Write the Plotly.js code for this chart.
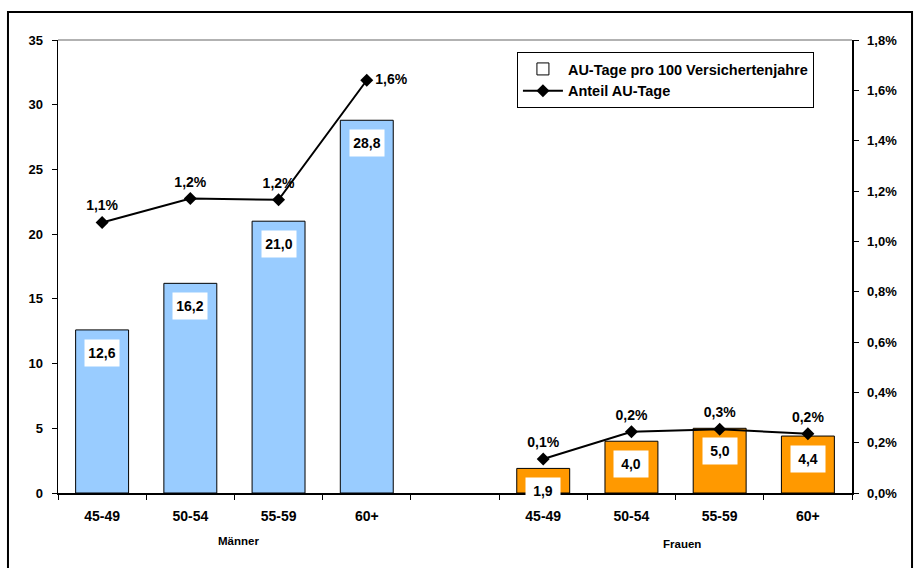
<!DOCTYPE html>
<html>
<head>
<meta charset="utf-8">
<script src="https://cdn.plot.ly/plotly-3.0.1.min.js"></script>
<style>
html,body{margin:0;padding:0;background:#fff;}
#chart{width:915px;height:568px;}
</style>
</head>
<body>
<div id="chart"></div>
<script>
// ---- data ----
const ageGroups = ['45-49', '50-54', '55-59', '60+'];
const groupNames = ['Männer', 'Frauen'];
const auTageMaenner = [12.6, 16.2, 21.0, 28.8];
const auTageFrauen = [1.9, 4.0, 5.0, 4.4];
const anteilMaenner = [0.01075, 0.0117, 0.01165, 0.0164];
const anteilFrauen = [0.00135, 0.00243, 0.00253, 0.00235];
const legendBars = 'AU-Tage pro 100 Versichertenjahre';
const legendLine = 'Anteil AU-Tage';

// positions: Männer slots 0..3, gap slot 4, Frauen slots 5..8
const xM = ageGroups.map((_, i) => i);
const xF = ageGroups.map((_, i) => i + ageGroups.length + 1);

const FONT = 'Liberation Sans, Arial, sans-serif';
const bold = (s) => '<b>' + s + '</b>';
const fmt1 = (v) => v.toFixed(1).replace('.', ',');

const traces = [
  { type: 'bar', x: xM, y: auTageMaenner, width: 0.6, showlegend: false,
    marker: { color: '#99CCFF', line: { color: '#000', width: 1 } }, hoverinfo: 'skip' },
  { type: 'bar', x: xF, y: auTageFrauen, width: 0.6, showlegend: false,
    marker: { color: '#FF9900', line: { color: '#000', width: 1 } }, hoverinfo: 'skip' },
  // legend-only bar sample (white box)
  { type: 'bar', x: [null], y: [null], name: bold(legendBars), showlegend: true,
    marker: { color: '#FFFFFF', line: { color: '#000', width: 1 } } },
  { type: 'scatter', mode: 'lines+markers', x: xM, y: anteilMaenner, yaxis: 'y2',
    name: bold(legendLine), showlegend: true,
    line: { color: '#000', width: 2 }, marker: { symbol: 'diamond', size: 10, color: '#000' } },
  { type: 'scatter', mode: 'lines+markers', x: xF, y: anteilFrauen, yaxis: 'y2',
    showlegend: false,
    line: { color: '#000', width: 2 }, marker: { symbol: 'diamond', size: 10, color: '#000' } },
  { type: 'scatter', mode: 'markers+text', x: xM.concat(xF), y: anteilMaenner.concat(anteilFrauen), yaxis: 'y2',
    showlegend: false, texttemplate: '<b>%{y:.1%}</b>',
    marker: { size: 12, opacity: 0 },
    textposition: ['top center', 'top center', 'top center', 'middle right',
                   'top center', 'top center', 'top center', 'top center'],
    textfont: { family: FONT, size: 14, color: '#000' } }
];

const annotations = [];
xM.concat(xF).forEach((x, i) => {
  const v = auTageMaenner.concat(auTageFrauen)[i];
  annotations.push({
    x: x, y: v, xref: 'x', yref: 'y', yanchor: 'top', yshift: -9,
    text: bold(fmt1(v)), showarrow: false, bgcolor: '#FFFFFF',
    width: 34, height: 26, borderpad: 0,
    font: { family: FONT, size: 14, color: '#000' }
  });
});
annotations.push({ x: 1.55, y: -0.106, xref: 'x', yref: 'paper', yanchor: 'middle', text: bold(groupNames[0]),
  showarrow: false, font: { family: FONT, size: 11.5, color: '#000' } });
annotations.push({ x: 6.57, y: -0.113, xref: 'x', yref: 'paper', yanchor: 'middle', text: bold(groupNames[1]),
  showarrow: false, font: { family: FONT, size: 11.5, color: '#000' } });

const yTickFont = { family: FONT, size: 13, color: '#000' };
const xTickFont = { family: FONT, size: 14, color: '#000' };

const layout = {
  width: 915, height: 568,
  margin: { l: 58, r: 63, t: 40, b: 75 },
  paper_bgcolor: '#fff', plot_bgcolor: '#fff',
  separators: ',.',
  barmode: 'overlay',
  font: { family: FONT, size: 13, color: '#000' },
  xaxis: {
    range: [-0.5, 8.5], tickmode: 'array', tickvals: xM.concat(xF),
    ticktext: ageGroups.concat(ageGroups).map(bold), ticks: '',
    minor: { ticks: 'outside', tick0: 0.5, dtick: 1, ticklen: 5, tickcolor: '#000', tickwidth: 1 },
    showline: true, linecolor: '#000', linewidth: 1.5, showgrid: false, zeroline: false,
    tickfont: xTickFont, ticklabelstandoff: 10, fixedrange: true
  },
  yaxis: {
    range: [0, 35], dtick: 5, ticks: 'outside', ticklen: 5, tickcolor: '#000',
    showline: true, linecolor: '#000', linewidth: 1.5, showgrid: false, zeroline: false,
    tickfont: yTickFont, tickprefix: '<b>', ticksuffix: '</b>', ticklabelstandoff: 6
  },
  yaxis2: {
    overlaying: 'y', side: 'right', range: [0, 0.018], dtick: 0.002, tickformat: '.1%',
    ticks: 'outside', ticklen: 5, tickcolor: '#000',
    showline: true, linecolor: '#000', linewidth: 1.5, showgrid: false, zeroline: false,
    tickfont: yTickFont, tickprefix: '<b>', ticksuffix: '</b>', ticklabelstandoff: 6
  },
  legend: {
    x: 0.578, y: 0.9735, xanchor: 'left', yanchor: 'top',
    bgcolor: '#fff', bordercolor: '#000', borderwidth: 1, itemwidth: 40,
    font: { family: FONT, size: 14.5, color: '#000' }, traceorder: 'normal'
  },
  annotations: annotations,
  shapes: [
    { type: 'line', xref: 'paper', yref: 'paper', x0: 0, x1: 1, y0: 1, y1: 1,
      line: { color: '#999', width: 1.5 } },
    { type: 'rect', xref: 'paper', yref: 'paper', x0: -0.063, x1: 1.0756, y0: -0.2, y1: 1.0618,
      line: { color: '#000', width: 2 } }
  ]
};

Plotly.newPlot('chart', traces, layout, { displayModeBar: false, staticPlot: true });
</script>
</body>
</html>
